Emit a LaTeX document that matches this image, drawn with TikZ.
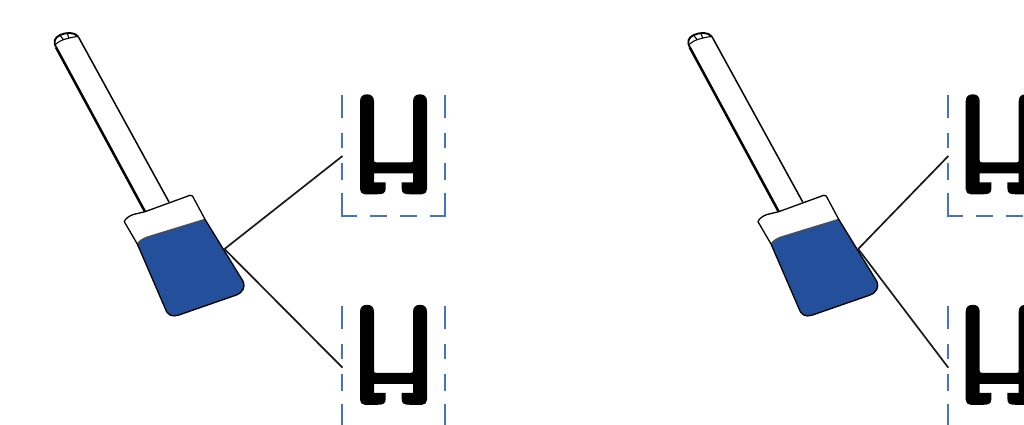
\documentclass[tikz,border=0pt]{standalone}
\definecolor{brushblue}{HTML}{24509B}
\definecolor{frameblue}{HTML}{4472C4}
\tikzset{
  x=1pt,y=-1pt,
  framedash/.style={draw=frameblue,line width=1.9pt},
  link/.style={draw=black!90,line width=1.7pt},
  outline/.style={draw=black,line width=1.5pt,line join=round},
  brushpic/.pic={
    % origin at reference px (0,0) of the left brush
    \fill[brushblue] (137.3,244) .. controls (140,240) and (144,238) .. (149,236.5)
       -- (205,219.3) -- (243.3,281.7) .. controls (245.5,287) and (243,293) .. (235,295.5)
       -- (178.3,315.2) .. controls (172,317) and (167.5,315.5) .. (165,308) -- cycle;
    \draw[draw=black!70,line width=1.2pt] (137.3,244) .. controls (140,240) and (144,238) .. (149,236.5) -- (205,219.3);
    \draw[outline,line width=1.3pt] (145,211.7) -- (133.3,214.5) .. controls (129,216) and (125.5,218.5) .. (124.3,221.7)
       -- (137.3,244) -- (165,308) .. controls (167.5,315.5) and (172,317) .. (178.3,315.2)
       -- (235,295.5) .. controls (243,293) and (245.5,287) .. (243.3,281.7)
       -- (205,219.3) -- (192.5,196) .. controls (192,195) and (191,195) .. (190,195.3) -- cycle;
    \draw[draw=black,line width=2.5pt] (145,211.7) -- (56,47.3);
    \draw[outline] (169,202) -- (78.3,36.7);
    \draw[outline,line width=1.9pt] (56,47.3) .. controls (53.5,42) and (54,38) .. (60,35)
       .. controls (66,32.5) and (74,31.5) .. (78.3,36.7);
    \draw[outline,line width=1.1pt] (56,44) .. controls (60,40) and (68,38) .. (77,36.5)
       (60,35) .. controls (61,37) and (62,38) .. (63,39)
       (67,33) .. controls (68,35) and (68,36) .. (69,38);
    \coordinate (out) at (224.5,249);
  },
  hprofile/.pic={
    \fill[black] (0,7) .. controls (0,2) and (3,0) .. (7,0) .. controls (11,0) and (14,2) .. (14,7)
      -- (14,66) .. controls (14,67.5) and (14.5,68) .. (16,68) -- (51,68) .. controls (52.5,68) and (53,67.5) .. (53,66)
      -- (53,7) .. controls (53,2) and (56,0) .. (60,0) .. controls (64,0) and (67,2) .. (67,7)
      -- (67,95) .. controls (67,98) and (65,100) .. (62,100) -- (50,100)
      .. controls (44,100) and (41.7,99) .. (41.7,94) -- (41.7,88) -- (53,88) -- (53,79) -- (14,79) -- (14,88)
      -- (25.7,88) -- (25.7,94) .. controls (25.7,99) and (23,100) .. (17,100) -- (5,100)
      .. controls (2,100) and (0,98) .. (0,95) -- cycle;
  },
  sidedash/.pic={
    \foreach \a/\b in {0/23,38/53,68/85,98/121}{\draw[framedash] (0,\a) -- (0,\b);}
  },
  basedash/.pic={
    \foreach \a/\b in {0/15,28/45,58/75,88/103}{\draw[framedash] (\a,0) -- (\b,0);}
  },
}
\begin{document}
\begin{tikzpicture}
\useasboundingbox (0,0) rectangle (1024,425);
\clip (0,0) rectangle (1024,425);
% named targets of connectors
\coordinate (t1) at (342.5,156);
\coordinate (t2) at (342.5,367.7);
\coordinate (t3) at (948.3,156);
\coordinate (t4) at (948.3,367.7);
% left group
\pic (bl) at (0,0) {brushpic};
\draw[link] (blout) -- (t1);
\draw[link] (blout) -- (t2);
\pic at (360,94.3) {hprofile};
\pic at (360,304.8) {hprofile};
\pic at (342,95) {sidedash};
\pic at (445,95) {sidedash};
\pic at (342,306) {sidedash};
\pic at (445,306) {sidedash};
\draw[framedash] (342,193) -- (342,216) -- (357,216);
\draw[framedash] (445,193) -- (445,216) -- (430,216);
\pic at (342,216) {basedash};
% right group
\pic (br) at (633.7,0) {brushpic};
\draw[link] (brout) -- (t3);
\draw[link] (brout) -- (t4);
\pic at (965.7,94.3) {hprofile};
\pic at (965.7,304.8) {hprofile};
\pic at (947.7,95) {sidedash};
\pic at (947.7,306) {sidedash};
\draw[framedash] (947.7,193) -- (947.7,216) -- (962.7,216);
\pic at (947.7,216) {basedash};
\end{tikzpicture}
\end{document}
